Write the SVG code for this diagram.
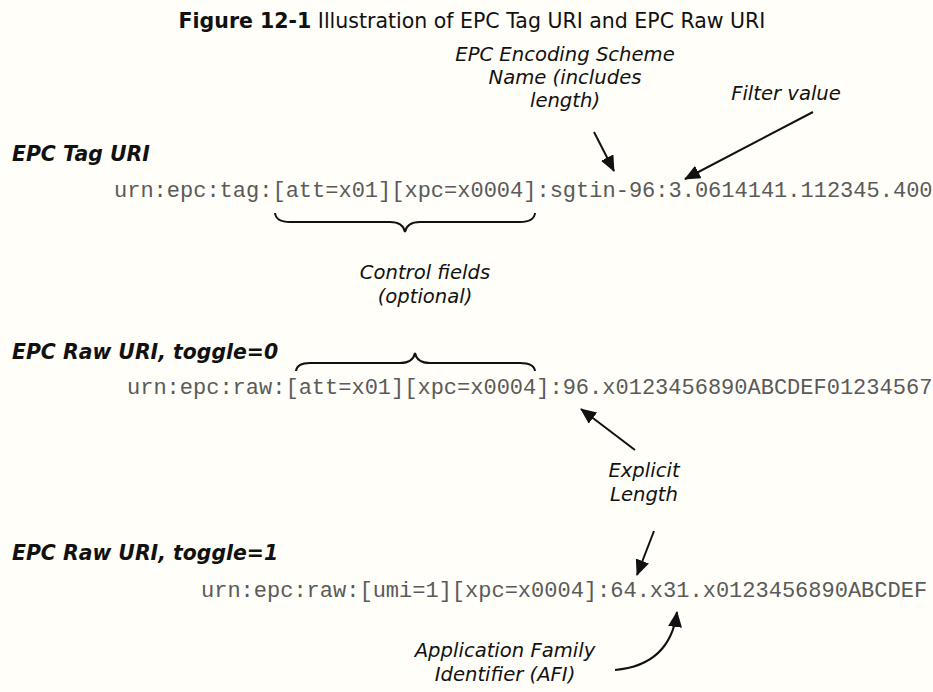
<svg xmlns="http://www.w3.org/2000/svg" width="933" height="692" viewBox="0 0 933 692">
<style>
.bg{fill:#fffef8}
.title{font-family:"DejaVu Sans","Liberation Sans",sans-serif;font-size:20.5px;fill:#111}
.hd{font-family:"DejaVu Sans","Liberation Sans",sans-serif;font-size:20.4px;font-weight:bold;font-style:italic;fill:#111}
.lbl{font-family:"DejaVu Sans","Liberation Sans",sans-serif;font-size:19.6px;font-style:italic;fill:#111;text-anchor:middle}
.mono{font-family:"Liberation Mono","Courier New",monospace;font-size:22px;fill:#5a5a5a}
.ln{stroke:#111;stroke-width:2;fill:none}
</style>
<defs>
<marker id="ah" markerUnits="userSpaceOnUse" markerWidth="18" markerHeight="16" refX="15" refY="7" orient="auto">
<path d="M0,0 L16,7 L0,14 Z" fill="#111"/>
</marker>
</defs>
<rect class="bg" x="0" y="0" width="933" height="692"/>
<g id="title"><text class="title" x="472" y="28" text-anchor="middle"><tspan font-weight="bold">Figure 12-1</tspan> Illustration of EPC Tag URI and EPC Raw URI</text></g>
<g id="tag-uri">
<text class="hd" x="12" y="161">EPC Tag URI</text>
<text class="mono" x="114" y="197">urn:epc:tag:[att=x01][xpc=x0004]:sgtin-96:3.0614141.112345.400</text>
</g>
<g id="raw-uri-0">
<text class="hd" x="12" y="359">EPC Raw URI, toggle=0</text>
<text class="mono" x="127" y="394">urn:epc:raw:[att=x01][xpc=x0004]:96.x0123456890ABCDEF01234567</text>
</g>
<g id="raw-uri-1">
<text class="hd" x="12" y="560">EPC Raw URI, toggle=1</text>
<text class="mono" x="201" y="597">urn:epc:raw:[umi=1][xpc=x0004]:64.x31.x0123456890ABCDEF</text>
</g>
<g id="scheme-label"><text class="lbl" x="565" y="61">EPC Encoding Scheme<tspan x="565" y="84">Name (includes</tspan><tspan x="565" y="107">length)</tspan></text></g>
<g id="filter-label"><text class="lbl" x="786" y="100">Filter value</text></g>
<g id="control-label"><text class="lbl" x="425" y="279">Control fields<tspan x="425" y="303">(optional)</tspan></text></g>
<g id="length-label"><text class="lbl" x="644" y="477">Explicit<tspan x="644" y="501">Length</tspan></text></g>
<g id="afi-label"><text class="lbl" x="505" y="657">Application Family<tspan x="505" y="681">Identifier (AFI)</tspan></text></g>
<g id="connectors">
<line class="ln" x1="594" y1="132" x2="614" y2="171" marker-end="url(#ah)"/>
<line class="ln" x1="813" y1="112" x2="685" y2="179" marker-end="url(#ah)"/>
<path class="ln" d="M275,213 Q276,222 290,222 L390,222 Q403,222 405,232 Q407,222 420,222 L520,222 Q534,222 535,213"/>
<path class="ln" d="M296,371 Q297,363 310,363 L400,363 Q413,363 415,353 Q417,363 430,363 L520,363 Q534,363 535,371"/>
<line class="ln" x1="635" y1="450" x2="581" y2="409" marker-end="url(#ah)"/>
<line class="ln" x1="654" y1="531" x2="637" y2="575" marker-end="url(#ah)"/>
<path class="ln" d="M615,670 Q670,665 677,612" marker-end="url(#ah)"/>
</g>
</svg>
